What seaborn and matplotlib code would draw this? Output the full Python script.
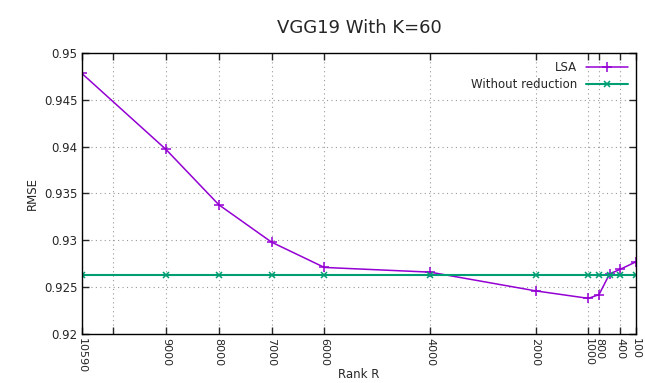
import matplotlib
matplotlib.use("Agg")
import matplotlib.pyplot as plt
import seaborn as sns
import pandas as pd

rank = [10590, 9000, 8000, 7000, 6000, 4000, 2000, 1000, 800, 600, 400, 100]
lsa = [0.9478, 0.9397, 0.9338, 0.9298, 0.9271, 0.9266, 0.9246, 0.9238, 0.9242, 0.9264, 0.9269, 0.9277]
without = [0.92625] * len(rank)

xtick_vals = [10590, 10000, 9000, 8000, 7000, 6000, 4000, 2000, 1000, 800, 400, 100]
xtick_labels = ["10590", "", "9000", "8000", "7000", "6000", "4000", "2000", "1000", "800", "400", "100"]
ytick_vals = [0.92, 0.925, 0.93, 0.935, 0.94, 0.945, 0.95]
ytick_labels = ["0.92", "0.925", "0.93", "0.935", "0.94", "0.945", "0.95"]

sns.set_style("white")
plt.rcParams["font.family"] = ["DejaVu Sans"]

df_lsa = pd.DataFrame({"rank": rank, "rmse": lsa})
df_wo = pd.DataFrame({"rank": rank, "rmse": without})

fig = plt.figure(figsize=(6.45, 3.83), dpi=100)
ax = fig.add_axes([0.127, 0.128, 0.859, 0.734])

c_lsa = "#9400D3"
c_wo = "#009E73"
sns.lineplot(data=df_lsa, x="rank", y="rmse", color=c_lsa, marker="+",
             markersize=7, markeredgewidth=1.1, markeredgecolor=c_lsa,
             linewidth=1.1, ax=ax, label="LSA")
sns.lineplot(data=df_wo, x="rank", y="rmse", color=c_wo, marker="x",
             markersize=5, markeredgewidth=1.1, markeredgecolor=c_wo,
             linewidth=1.5, ax=ax, label="Without reduction")

ax.set_xlim(10590, 100)
ax.set_ylim(0.92, 0.95)
ax.set_xticks(xtick_vals)
ax.set_xticklabels(xtick_labels, rotation=270, fontsize=8)
ax.set_yticks(ytick_vals)
ax.set_yticklabels(ytick_labels, fontsize=8.5)
ax.grid(True, linestyle=(0, (1, 3)), color="#999999", linewidth=0.8)
ax.tick_params(direction="in", length=5, width=1, top=True, right=True,
               bottom=True, left=True, labeltop=False, labelright=False, pad=3)
for s in ax.spines.values():
    s.set_visible(True)
    s.set_color("black")
    s.set_linewidth(1.0)

ax.set_xlabel("Rank R", fontsize=8.5)
ax.xaxis.set_label_coords(0.5, -0.145)
ax.xaxis.label.set_va("center")
ax.set_ylabel("RMSE", fontsize=8.5)
ax.set_title("VGG19 With K=60", fontsize=13, pad=14)

leg = ax.legend(loc="upper right", frameon=False, markerfirst=False,
                fontsize=8.5, handlelength=3.5, borderaxespad=0.3, labelspacing=0.35)

fig.savefig("out.png", dpi=100)
